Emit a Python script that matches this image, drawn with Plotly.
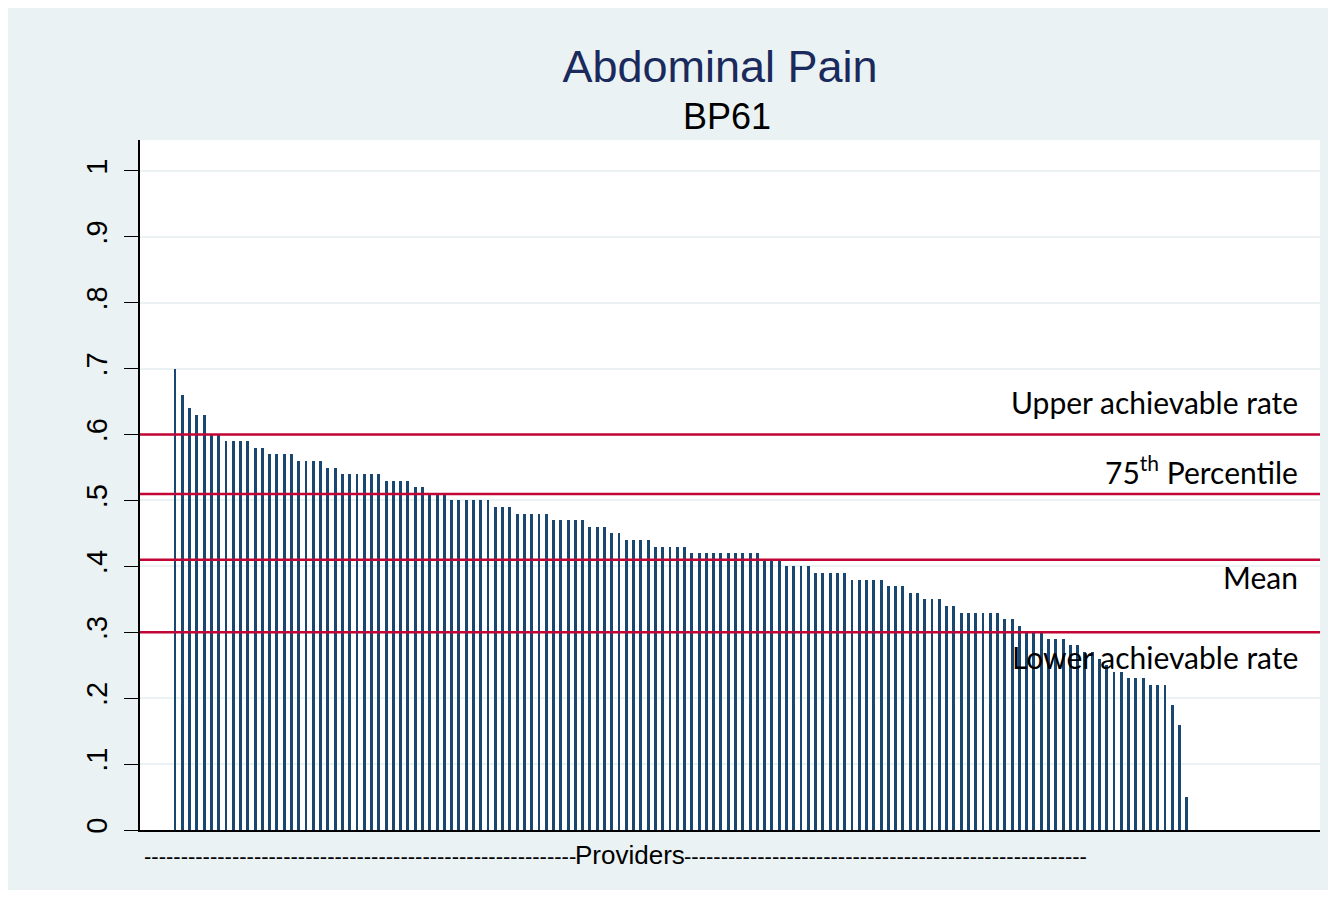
import plotly.graph_objects as go

# ---------------- data ----------------
providers = list(range(1, 141))
rates = [
    0.70, 0.66, 0.64, 0.63, 0.63, 0.60, 0.60, 0.59, 0.59, 0.59,
    0.59, 0.58, 0.58, 0.57, 0.57, 0.57, 0.57, 0.56, 0.56, 0.56,
    0.56, 0.55, 0.55, 0.54, 0.54, 0.54, 0.54, 0.54, 0.54, 0.53,
    0.53, 0.53, 0.53, 0.52, 0.52, 0.51, 0.51, 0.51, 0.50, 0.50,
    0.50, 0.50, 0.50, 0.50, 0.49, 0.49, 0.49, 0.48, 0.48, 0.48,
    0.48, 0.48, 0.47, 0.47, 0.47, 0.47, 0.47, 0.46, 0.46, 0.46,
    0.45, 0.45, 0.44, 0.44, 0.44, 0.44, 0.43, 0.43, 0.43, 0.43,
    0.43, 0.42, 0.42, 0.42, 0.42, 0.42, 0.42, 0.42, 0.42, 0.42,
    0.42, 0.41, 0.41, 0.41, 0.40, 0.40, 0.40, 0.40, 0.39, 0.39,
    0.39, 0.39, 0.39, 0.38, 0.38, 0.38, 0.38, 0.38, 0.37, 0.37,
    0.37, 0.36, 0.36, 0.35, 0.35, 0.35, 0.34, 0.34, 0.33, 0.33,
    0.33, 0.33, 0.33, 0.33, 0.32, 0.32, 0.31, 0.30, 0.30, 0.30,
    0.29, 0.29, 0.29, 0.28, 0.28, 0.27, 0.27, 0.26, 0.25, 0.24,
    0.24, 0.23, 0.23, 0.23, 0.22, 0.22, 0.22, 0.19, 0.16, 0.05,
]
ref_labels = ["Upper achievable rate", "75<sup>th</sup> Percentile", "Mean", "Lower achievable rate"]
ref_values = [0.60, 0.51, 0.41, 0.30]
ref_label_y = [0.6495, 0.546, 0.384, 0.2625]
y_ticks = [0, 0.1, 0.2, 0.3, 0.4, 0.5, 0.6, 0.7, 0.8, 0.9, 1]
y_ticklabels = ["0", ".1", ".2", ".3", ".4", ".5", ".6", ".7", ".8", ".9", "1"]

BG = "#EAF2F3"
BAR = "#1A476F"
RED = "#C10534"

W, H = 1322, 882
L, R, T, B = 132, 10, 132, 60
PW, PH = W - L - R, H - T - B  # 1180 x 690

fig = go.Figure()
fig.add_trace(go.Bar(
    x=providers, y=rates, width=0.4,
    marker=dict(color=BAR, line=dict(width=0)),
    showlegend=False,
))

shapes = []
for v in ref_values:
    shapes.append(dict(type="line", xref="paper", x0=0, x1=1, yref="y", y0=v, y1=v,
                       line=dict(color=RED, width=2.5), layer="above"))

annotations = []
for lab, yy in zip(ref_labels, ref_label_y):
    annotations.append(dict(text=lab, xref="paper", x=(1300 - 140) / PW, xanchor="right",
                            yref="y", y=yy, yanchor="middle", showarrow=False,
                            font=dict(family="Lato, Open Sans, sans-serif", size=30, color="black")))
annotations.append(dict(text="BP61", xref="paper", x=(727 - 140) / PW, xanchor="center",
                        yref="paper", y=1 + (140 - 117) / PH, yanchor="middle", showarrow=False,
                        font=dict(family="Liberation Sans, Arial, sans-serif", size=36, color="black")))
# x-axis title made of dashes and the word Providers
axis_font = "Liberation Sans Narrow, Liberation Sans, Arial, sans-serif"
annotations.append(dict(text="-" * 59, xref="paper", x=(578 - 140) / PW, xanchor="right",
                        yref="paper", y=-(856 - 830) / PH, yanchor="middle", showarrow=False,
                        font=dict(family=axis_font, size=22, color="black")))
annotations.append(dict(text="Providers", xref="paper", x=(630 - 140) / PW, xanchor="center",
                        yref="paper", y=-(855 - 830) / PH, yanchor="middle", showarrow=False,
                        font=dict(family=axis_font, size=26, color="black")))
annotations.append(dict(text="-" * 55, xref="paper", x=(682 - 140) / PW, xanchor="left",
                        yref="paper", y=-(856 - 830) / PH, yanchor="middle", showarrow=False,
                        font=dict(family=axis_font, size=22, color="black")))

fig.update_layout(
    width=W, height=H,
    margin=dict(l=L, r=R, t=T, b=B),
    paper_bgcolor=BG, plot_bgcolor="white",
    bargap=0,
    title=dict(text="Abdominal Pain", x=712 / W, xanchor="center",
               y=1 - 58 / H, yanchor="middle", xref="container", yref="container",
               font=dict(family="Liberation Sans, Arial, sans-serif", size=45, color="#1A2A5C")),
    shapes=shapes,
    annotations=annotations,
    xaxis=dict(range=[-3.81, 158.3], showticklabels=False, ticks="", showgrid=False,
               zeroline=False, showline=True, linecolor="black", linewidth=1.5),
    yaxis=dict(range=[0, 1.047], tickvals=y_ticks, ticktext=y_ticklabels, tickangle=-90,
               ticks="outside", ticklen=14, tickcolor="black", tickwidth=1,
               ticklabelstandoff=6,
               tickfont=dict(family="Liberation Sans, Arial, sans-serif", size=29, color="black"),
               showgrid=True, gridcolor=BG, gridwidth=2, zeroline=False,
               showline=True, linecolor="black", linewidth=1.5),
)

fig.write_html("out.html")
